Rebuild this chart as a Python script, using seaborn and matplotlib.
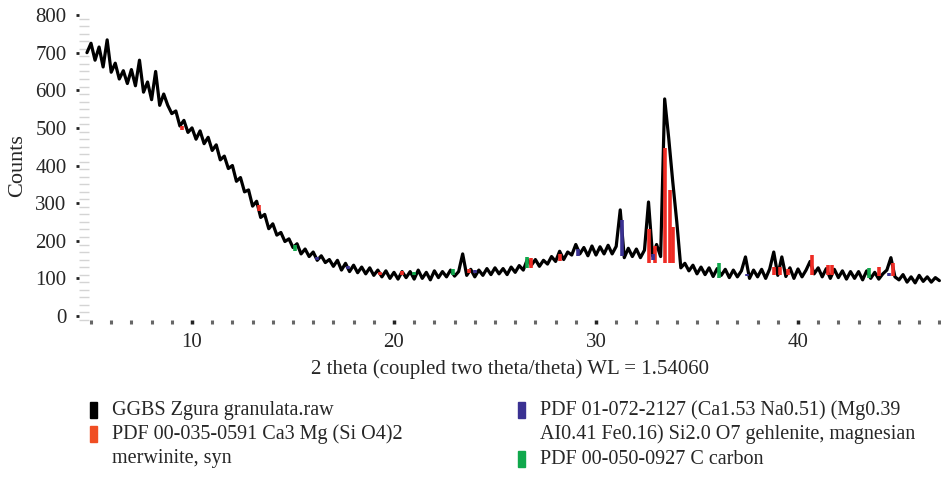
import numpy as np
import pandas as pd
import matplotlib
matplotlib.use("Agg")
import matplotlib.pyplot as plt
from matplotlib.patches import Rectangle
import seaborn as sns

# ---------------- data ----------------
two_theta = [
    4.8, 5.0, 5.2, 5.4, 5.6, 5.8, 6.0, 6.2, 6.4, 6.6,
    6.8, 7.0, 7.2, 7.4, 7.6, 7.8, 8.0, 8.2, 8.4, 8.6,
    8.8, 9.0, 9.2, 9.4, 9.6, 9.8, 10.0, 10.2, 10.4, 10.6,
    10.8, 11.0, 11.2, 11.4, 11.6, 11.8, 12.0, 12.2, 12.4, 12.6,
    12.8, 13.0, 13.2, 13.4, 13.6, 13.8, 14.0, 14.2, 14.4, 14.6,
    14.8, 15.0, 15.2, 15.4, 15.6, 15.8, 16.0, 16.2, 16.4, 16.6,
    16.8, 17.0, 17.2, 17.4, 17.6, 17.8, 18.0, 18.2, 18.4, 18.6,
    18.8, 19.0, 19.2, 19.4, 19.6, 19.8, 20.0, 20.2, 20.4, 20.6,
    20.8, 21.0, 21.2, 21.4, 21.6, 21.8, 22.0, 22.2, 22.4, 22.6,
    22.8, 23.0, 23.2, 23.4, 23.6, 23.8, 24.0, 24.2, 24.4, 24.6,
    24.8, 25.0, 25.2, 25.4, 25.6, 25.8, 26.0, 26.2, 26.4, 26.6,
    26.8, 27.0, 27.2, 27.4, 27.6, 27.8, 28.0, 28.2, 28.4, 28.6,
    28.8, 29.0, 29.2, 29.4, 29.6, 29.8, 30.0, 30.2, 30.4, 30.6,
    30.8, 31.0, 31.2, 31.4, 31.6, 31.8, 32.0, 32.2, 32.4, 32.6,
    32.8, 33.0, 33.2, 33.4, 33.6, 33.8, 34.0, 34.2, 34.4, 34.6,
    34.8, 35.0, 35.2, 35.4, 35.6, 35.8, 36.0, 36.2, 36.4, 36.6,
    36.8, 37.0, 37.2, 37.4, 37.6, 37.8, 38.0, 38.2, 38.4, 38.6,
    38.8, 39.0, 39.2, 39.4, 39.6, 39.8, 40.0, 40.2, 40.4, 40.6,
    40.8, 41.0, 41.2, 41.4, 41.6, 41.8, 42.0, 42.2, 42.4, 42.6,
    42.8, 43.0, 43.2, 43.4, 43.6, 43.8, 44.0, 44.2, 44.4, 44.6,
    44.8, 45.0, 45.2, 45.4, 45.6, 45.8, 46.0, 46.2, 46.4, 46.6,
    46.8, 47.0,
]
counts = [
    700, 725, 680, 715, 662, 734, 648, 672, 630, 652,
    618, 655, 612, 680, 595, 622, 575, 650, 560, 590,
    560, 538, 545, 505, 520, 488, 500, 470, 492, 458,
    475, 440, 455, 415, 425, 392, 400, 358, 368, 330,
    335, 292, 305, 262, 270, 232, 245, 215, 222, 198,
    205, 182, 192, 165, 178, 158, 170, 148, 160, 142,
    150, 132, 148, 122, 140, 118, 135, 115, 130, 112,
    128, 108, 122, 104, 120, 100, 116, 98, 118, 102,
    118, 98, 122, 100, 116, 96, 120, 102, 118, 104,
    122, 106, 118, 165, 108, 124, 104, 122, 108, 126,
    110, 128, 112, 126, 110, 130, 116, 134, 122, 150,
    135, 150, 132, 148, 138, 158, 145, 172, 150, 170,
    162, 190, 165, 182, 160, 186, 162, 184, 165, 188,
    165, 185, 282, 155, 180, 158, 178, 155, 175, 303,
    160, 190, 158, 577, 473, 357, 250, 128, 140, 120,
    135, 112, 130, 110, 128, 105, 126, 108, 124, 102,
    122, 104, 120, 157, 100, 122, 104, 124, 100, 125,
    170, 108, 157, 105, 128, 100, 125, 104, 122, 145,
    112, 128, 104, 126, 100, 124, 102, 120, 98, 118,
    100, 118, 96, 120, 100, 116, 98, 112, 122, 155,
    104, 96, 110, 90, 104, 88, 108, 92, 104, 90,
    102, 94,
]

# reference-pattern sticks: position, lower and upper count
merwinite_pos = [9.5, 13.3, 19.3, 20.4, 23.7, 26.8, 28.2, 32.6, 32.9, 33.42, 33.66, 33.81,
                 38.8, 39.1, 39.5, 40.7, 41.5, 41.7, 44.0, 44.7]
merwinite_low = [495, 280, 108, 110, 115, 128, 145, 140, 140, 140, 140, 140,
                 110, 110, 110, 110, 110, 110, 105, 105]
merwinite_high = [505, 295, 118, 120, 125, 155, 165, 230, 185, 446, 335, 237,
                  130, 130, 125, 162, 135, 135, 130, 140]

gehlenite_pos = [16.2, 17.7, 24.0, 29.1, 31.3, 32.8, 37.5, 44.5]
gehlenite_low = [150, 125, 115, 160, 160, 150, 105, 105]
gehlenite_high = [158, 132, 122, 178, 255, 165, 112, 115]

carbon_pos = [15.1, 21.0, 22.9, 26.6, 36.1, 43.5]
carbon_low = [172, 108, 110, 128, 100, 100]
carbon_high = [190, 118, 125, 158, 140, 127]

legend_labels = [
    "GGBS Zgura granulata.raw",
    "PDF 00-035-0591 Ca3 Mg (Si O4)2\nmerwinite, syn",
    "PDF 01-072-2127 (Ca1.53 Na0.51) (Mg0.39\nAI0.41 Fe0.16) Si2.0 O7 gehlenite, magnesian",
    "PDF 00-050-0927 C carbon",
]
x_ticks = [10, 20, 30, 40]
y_ticks = [0, 100, 200, 300, 400, 500, 600, 700, 800]

# ---------------- style ----------------
sns.set_theme(style="white")
plt.rcParams["font.family"] = ["Liberation Serif", "DejaVu Serif"]

C_RED = "#ee2b24"
C_BLUE = "#3a3192"
C_GREEN = "#10a84c"
FS = 15
FS_LEG = 14.5

W, H = 941, 478
fig = plt.figure(figsize=(W / 100, H / 100), dpi=100)
ax = fig.add_axes([79 / W, (H - 322) / H, (941 - 79) / W, (322 - 9.4) / H])

df = pd.DataFrame({"two_theta": two_theta, "counts": counts})
sns.lineplot(data=df, x="two_theta", y="counts", color="black", linewidth=2.3,
             estimator=None, sort=False, ax=ax, zorder=2)

ax.vlines(merwinite_pos, merwinite_low, merwinite_high, colors=C_RED, linewidth=2.6, zorder=3)
ax.vlines(gehlenite_pos, gehlenite_low, gehlenite_high, colors=C_BLUE, linewidth=2.6, zorder=3)
ax.vlines(carbon_pos, carbon_low, carbon_high, colors=C_GREEN, linewidth=2.6, zorder=3)

ax.set_xlim(4.406, 47.08)
ax.set_ylim(-16, 815)

for s in ax.spines.values():
    s.set_visible(False)

ax.set_xticks(x_ticks)
ax.set_xticks(list(range(5, 48)), minor=True)
ax.set_yticks(y_ticks)
ax.set_yticks(list(range(-10, 810, 20)), minor=True)
ax.tick_params(axis="x", which="major", bottom=True, direction="inout", length=2.5,
               width=2.5, color="#222222", pad=7, labelsize=FS)
ax.tick_params(axis="x", which="minor", bottom=True, direction="inout", length=2.5,
               width=2.2, color="#666666")
ax.tick_params(axis="y", which="major", left=True, direction="out", length=2,
               width=2, color="#222222", pad=7, labelsize=FS)
ax.tick_params(axis="y", which="minor", left=True, direction="in", length=7,
               width=1.0, color="#d4d4d4")
ax.grid(False)

ax.set_xlabel("2 theta (coupled two theta/theta) WL = 1.54060", fontsize=FS, labelpad=5)
ax.set_ylabel("Counts", fontsize=16, labelpad=6)

# ---------------- legend (drawn below the axes) ----------------
legend_colors = ["black", "#f04e23", C_BLUE, C_GREEN]
legend_marker_x = [90, 90, 518, 518]
legend_text_x = [112, 112, 540, 540]
legend_row_y = [410, 434, 410, 459]
for lab, col, mx, tx, ry in zip(legend_labels, legend_colors, legend_marker_x,
                                legend_text_x, legend_row_y):
    fig.patches.append(Rectangle((mx / W, (H - ry - 8) / H), 7 / W, 16 / H,
                                 transform=fig.transFigure, color=col, zorder=5))
    lines = lab.split("\n")
    for k, line in enumerate(lines):
        fig.text(tx / W, (H - ry - 24 * k) / H, line, fontsize=FS_LEG,
                 ha="left", va="center")

fig.savefig("out.png", dpi=100)
